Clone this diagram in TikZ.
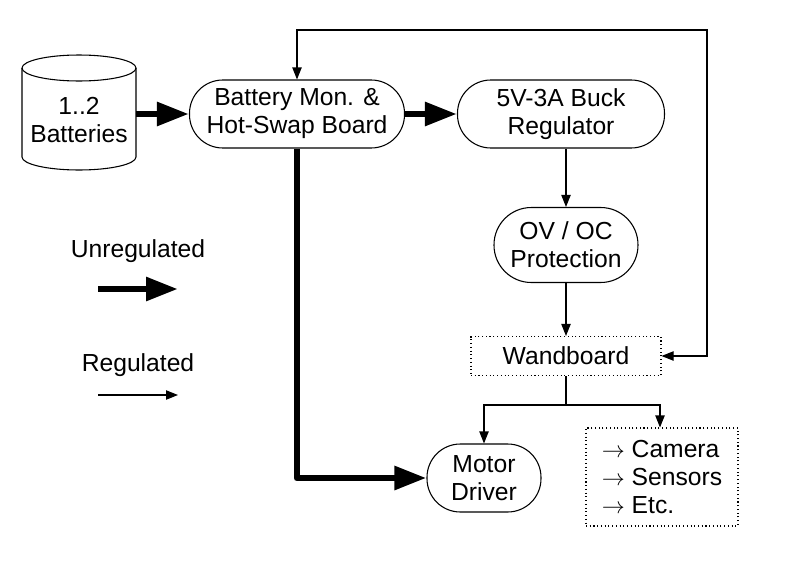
\documentclass[tikz,border=0pt]{standalone}
\usepackage{fontspec}
\setmainfont{Liberation Sans}
\usetikzlibrary{arrows.meta}
\begin{document}
\begin{tikzpicture}[x=0.75pt,y=-0.75pt,
  txt/.style={font=\fontsize{18.5pt}{21pt}\selectfont,align=center},
  rbox/.style={txt,draw,rounded corners=25pt,line width=0.8pt,inner sep=0pt},
  dbox/.style={txt,draw,dotted,line width=0.8pt,inner sep=0pt},
  thick/.style={line width=5pt,-{Triangle[length=24pt,width=17pt]}},
  thin/.style={line width=0.8pt,-{Triangle[length=9pt,width=7pt]}}]
\useasboundingbox (0,0) rectangle (793,561);
\draw[line width=0.8pt] (22,68) -- (22,157) arc[start angle=180,end angle=0,x radius=57,y radius=13] -- (136,68);
\draw[line width=0.8pt] (79,68) ellipse [x radius=57,y radius=13];
\node[txt,minimum width=85.5pt,minimum height=70pt,inner sep=0pt] (bat) at (79,120) {1..2\\Batteries};
\node[rbox,minimum width=161.25pt,minimum height=51pt] (mon) at (297,114) {Battery Mon. \&\\Hot-Swap Board};
\node[rbox,minimum width=155.25pt,minimum height=51pt] (buck) at (561,114) {5V-3A Buck\\Regulator};
\node[rbox,rounded corners=28pt,minimum width=108pt,minimum height=56.25pt] (ov) at (566,245) {OV / OC\\Protection};
\node[dbox,minimum width=142.5pt,minimum height=29.25pt] (wand) at (566,356) {Wandboard};
\node[rbox,minimum width=85.5pt,minimum height=51pt] (motor) at (484,478) {Motor\\Driver};
\node[dbox,minimum width=114pt,minimum height=73.5pt,align=left] (cam) at (662,477) {$\rightarrow$ Camera\\$\rightarrow$ Sensors\\$\rightarrow$ Etc.};
\node[txt] (lu) at (138,251) {Unregulated};
\node[txt] (lr) at (138,365) {Regulated};
\coordinate (u1) at (98,289); \coordinate (u2) at (178,289);
\coordinate (r1) at (98,395); \coordinate (r2) at (178,395);
\draw[thick] (u1) -- (u2);
\draw[thin] (r1) -- (r2);
\draw[thick] (136,114) -- (mon.west);
\draw[thick] (mon) -- (buck);
\draw[thick,line join=round] (mon.south) |- (motor.west);
\draw[thin] (buck.south-|ov) -- (ov.north);
\draw[thin] (ov) -- (wand);
\coordinate (sp) at (566,405);
\draw[thin] (wand.south) -- (sp) -| (motor.north);
\draw[thin] (sp) -| (cam.north-|660,0);
\coordinate (lp1) at (297,30); \coordinate (lp2) at (707,30);
\draw[thin,{Triangle[length=9pt,width=7pt]}-{Triangle[length=9pt,width=7pt]}] (mon.north) -- (lp1) -- (lp2) |- (wand.east);
\end{tikzpicture}
\end{document}
